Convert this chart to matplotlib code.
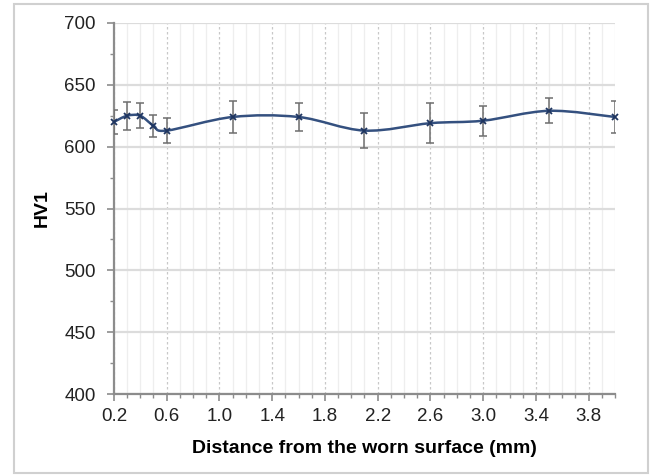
import numpy as np
import matplotlib.pyplot as plt
from matplotlib.path import Path
from matplotlib.patches import PathPatch, Rectangle
from matplotlib.ticker import MultipleLocator

plt.rcParams['font.family'] = ['Liberation Sans', 'DejaVu Sans']

# distance from worn surface (mm), hardness HV1 and error
distance = [0.2, 0.3, 0.4, 0.5, 0.6, 1.1, 1.6, 2.1, 2.6, 3.0, 3.5, 4.0]
hardness = [620, 625, 625, 617, 613, 624, 624, 613, 619, 621, 629, 624]
error = [10, 11.5, 10, 9, 10, 13, 11, 14, 16, 12, 10, 13]

x_ticks = [0.2, 0.6, 1.0, 1.4, 1.8, 2.2, 2.6, 3.0, 3.4, 3.8]

line_col = '#34507f'


def smooth_path(xs, ys):
    # bezier segments like a spreadsheet "smoothed line"
    pts = np.column_stack([xs, ys]).astype(float)
    n = len(pts)
    verts = [pts[0]]
    codes = [Path.MOVETO]
    for i in range(n - 1):
        p0 = pts[i - 1] if i > 0 else pts[i]
        p1 = pts[i]
        p2 = pts[i + 1]
        p3 = pts[i + 2] if i + 2 < n else pts[i + 1]
        c1 = p1 + (p2 - p0) / 6.0
        c2 = p2 - (p3 - p1) / 6.0
        verts += [c1, c2, p2]
        codes += [Path.CURVE4] * 3
    return Path(verts, codes)


fig = plt.figure(figsize=(6.51, 4.75), dpi=100)
fig.patches.append(Rectangle((14 / 651, 2 / 475), 634 / 651, 469 / 475, transform=fig.transFigure,
                             fill=False, edgecolor='#d0d0d0', lw=1.5))
ax = fig.add_axes([0.175, 0.1705, 0.7697, 0.7811])

ax.set_xlim(0.2, 4.0)
ax.set_ylim(400, 700)
ax.xaxis.set_major_locator(plt.FixedLocator(x_ticks))
ax.xaxis.set_minor_locator(MultipleLocator(0.1))
ax.yaxis.set_major_locator(MultipleLocator(50))
ax.yaxis.set_minor_locator(MultipleLocator(25))
ax.set_xticklabels(['%.1f' % v for v in x_ticks])

# grid
ax.grid(axis='y', which='major', color='#dcdcdc', lw=1.6)
ax.grid(axis='x', which='minor', color='#eeeeee', lw=0.9)
ax.grid(axis='x', which='major', color='#c8c8c8', lw=0.9, ls=(0, (2, 2)))
ax.set_axisbelow(True)

for s in ['top', 'right']:
    ax.spines[s].set_visible(False)
for s in ['left', 'bottom']:
    ax.spines[s].set_color('#8c8c8c')
    ax.spines[s].set_linewidth(1.6)

ax.tick_params(which='major', direction='out', length=5, width=1.2, color='#8c8c8c',
               labelsize=13.5, labelcolor='#222222')
ax.tick_params(axis='y', which='major', pad=8)
ax.tick_params(axis='x', which='major', pad=5)
ax.tick_params(which='minor', direction='out', length=3, width=1.0, color='#8c8c8c')

ax.errorbar(distance, hardness, yerr=error, fmt='none', ecolor='#6e6e6e', elinewidth=1.1,
            capsize=3, capthick=1.1, zorder=3)
ax.add_patch(PathPatch(smooth_path(distance, hardness), fill=False, edgecolor=line_col, lw=1.8, zorder=4))
ax.plot(distance, hardness, ls='none', marker='x', ms=4, mew=1.3, color='#1f3560', zorder=5, clip_on=False)

ax.set_xlabel('Distance from the worn surface (mm)', fontsize=14, fontweight='bold', labelpad=11)
ax.set_ylabel('HV1', fontsize=14, fontweight='bold', labelpad=10)

fig.savefig('out.png', dpi=100)
